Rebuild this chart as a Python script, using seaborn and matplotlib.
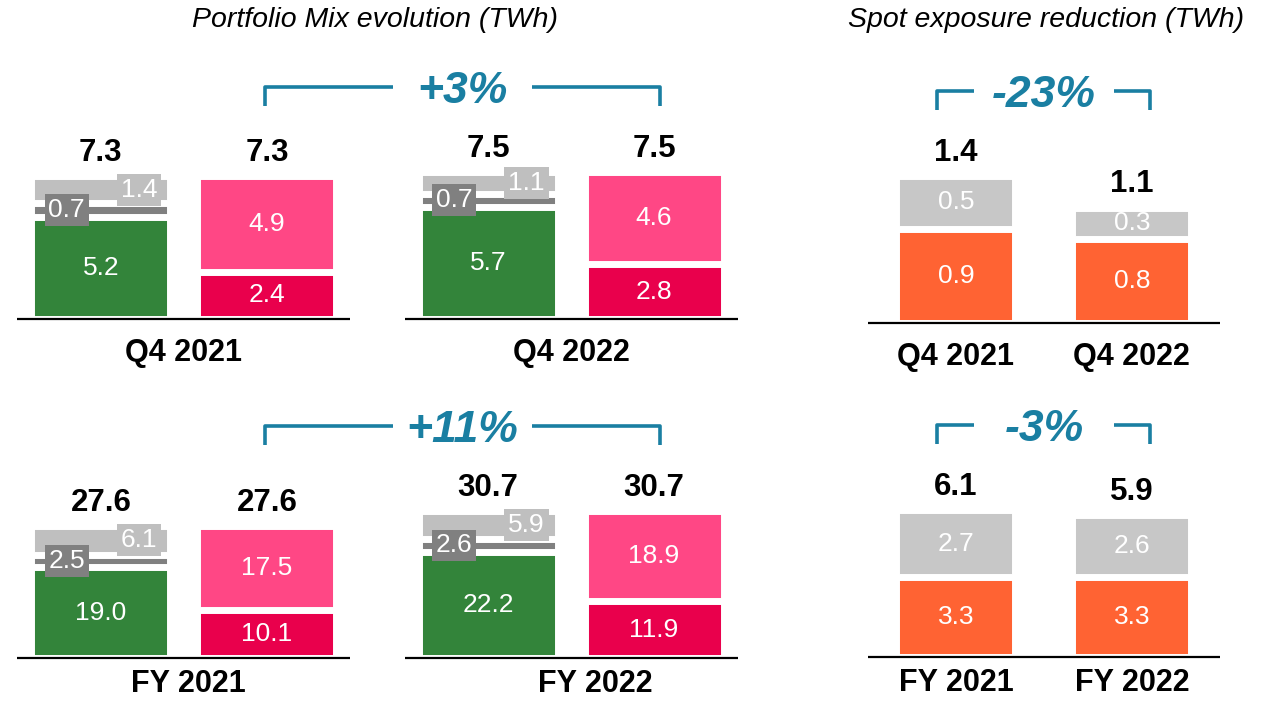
import numpy as np
import pandas as pd
import matplotlib.pyplot as plt
import seaborn as sns
from matplotlib import transforms

# ---- data (TWh) ----
q4_periods = ["Q4 2021", "Q4 2022"]
fy_periods = ["FY 2021", "FY 2022"]

# portfolio mix, first bar (green + dark grey + light grey)
q4_green = [5.2, 5.7]
q4_dark = [0.7, 0.7]
q4_light = [1.4, 1.1]
q4_total = [7.3, 7.5]
# portfolio mix, second bar (crimson + pink)
q4_low = [2.4, 2.8]
q4_high = [4.9, 4.6]

fy_green = [19.0, 22.2]
fy_dark = [2.5, 2.6]
fy_light = [6.1, 5.9]
fy_total = [27.6, 30.7]
fy_low = [10.1, 11.9]
fy_high = [17.5, 18.9]

# spot exposure (orange + grey)
spot_q4_orange = [0.9, 0.8]
spot_q4_grey = [0.5, 0.3]
spot_q4_total = [1.4, 1.1]
spot_fy_orange = [3.3, 3.3]
spot_fy_grey = [2.7, 2.6]
spot_fy_total = [6.1, 5.9]

mix_change = ["+3%", "+11%"]
spot_change = ["-23%", "-3%"]

# ---- style ----
GREEN = "#33843A"
DARK = "#808080"
LIGHT = "#BFBFBF"
PINK = "#FF4785"
CRIMSON = "#E9004C"
ORANGE = "#FF6333"
SPOTGREY = "#C7C7C7"
TEAL = "#1A7FA2"

sns.set_theme(style="white")
plt.rcParams['font.family'] = ['Liberation Sans', 'DejaVu Sans']

W, H = 1275, 705
fig = plt.figure(figsize=(W / 100, H / 100), dpi=100)
AX_H = 250       # px above baseline
BAR_PX = 147     # px used by the tallest bar


def px_axes(x0, x1, baseline):
    return fig.add_axes([x0 / W, (H - baseline) / H, (x1 - x0) / W, AX_H / H])


def tidy(ax, xlim, ymax, pad, label_shift=None):
    ax.set_xlim(*xlim)
    ax.set_ylim(0, ymax * AX_H / BAR_PX)
    ax.set_xlabel("")
    ax.set_ylabel("")
    ax.set_yticks([])
    ax.tick_params(axis="x", length=0, pad=pad, labelsize=22)
    for k, lbl in enumerate(ax.get_xticklabels()):
        lbl.set_fontweight("bold")
        lbl.set_color("black")
        if label_shift and label_shift[k]:
            lbl.set_transform(lbl.get_transform() + transforms.ScaledTranslation(
                label_shift[k] / 100, 0, fig.dpi_scale_trans))
    sns.despine(ax=ax, left=True, bottom=True)


def bracket(ax, x0, x1, gap, label):
    tr = transforms.blended_transform_factory(ax.transData, ax.transAxes)
    mid = (x0 + x1) / 2
    yt, yb = 0.928, 0.852
    kw = dict(color=TEAL, lw=2.6, transform=tr, clip_on=False,
              solid_joinstyle="round", solid_capstyle="butt")
    ax.plot([x0, x0, mid - gap], [yb, yt, yt], **kw)
    ax.plot([mid + gap, x1, x1], [yt, yt, yb], **kw)
    ax.text(mid, 0.864, label, transform=tr, ha="center", va="baseline",
            fontsize=32, fontweight="bold", fontstyle="italic", color=TEAL)


def inner(ax, x, y, s, box=None):
    kw = dict(ha="center", va="center", color="white", fontsize=19)
    if box is not None:
        kw["bbox"] = dict(boxstyle="square,pad=0.15", fc=box, ec="none")
    ax.text(x, y, s, **kw)


def total_label(ax, x, y):
    ax.annotate(f"{y:.1f}", (x, y), xytext=(0, 11), textcoords="offset points",
                ha="center", va="baseline", fontsize=22.5, fontweight="bold",
                color="black")


OFF = 0.2145            # dodge offset of the two bars in a group
MIX_W = 4 * OFF
MIX_GAP = 0.163


def mix_panel(ax, periods, green, dark, light, total, low, high, change,
              pad, label_shift=None):
    layers = [
        ({"mix": total, "split": total}, {"mix": LIGHT, "split": PINK}),
        ({"mix": list(np.add(green, dark)), "split": low}, {"mix": DARK, "split": CRIMSON}),
        ({"mix": green}, {"mix": GREEN, "split": GREEN}),
    ]
    for values, pal in layers:
        rows = [(p, k, v[i]) for k, v in values.items() for i, p in enumerate(periods)]
        df = pd.DataFrame(rows, columns=["period", "bar", "value"])
        sns.barplot(data=df, x="period", y="value", hue="bar", order=periods,
                    hue_order=["mix", "split"], palette=pal, width=MIX_W,
                    gap=MIX_GAP, dodge=True, saturation=1, edgecolor="white",
                    linewidth=5, errorbar=None, legend=False, ax=ax)
    for i in range(len(periods)):
        xa, xb = i - OFF, i + OFF
        inner(ax, xa, green[i] / 2, f"{green[i]:.1f}")
        inner(ax, xa - 0.088, green[i] + dark[i] / 2, f"{dark[i]:.1f}", box=DARK)
        inner(ax, xa + 0.099, (green[i] + dark[i] + total[i]) / 2, f"{light[i]:.1f}", box=LIGHT)
        inner(ax, xb, low[i] / 2, f"{low[i]:.1f}")
        inner(ax, xb, (low[i] + total[i]) / 2, f"{high[i]:.1f}")
        total_label(ax, xa, total[i])
        total_label(ax, xb, total[i])
        ax.hlines(0, i - 0.43, i + 0.43, color="black", lw=1.6, clip_on=False)
    tidy(ax, (-0.475, 1.488), max(total), pad, label_shift)
    bracket(ax, 0.21, 1.23, 0.18, change)


def spot_panel(ax, periods, orange, grey, total, change, pad):
    for vals, col in [(total, SPOTGREY), (orange, ORANGE)]:
        df = pd.DataFrame({"period": periods, "value": vals})
        sns.barplot(data=df, x="period", y="value", order=periods, color=col,
                    width=0.676, saturation=1, edgecolor="white", linewidth=5,
                    errorbar=None, ax=ax)
    for i in range(len(periods)):
        inner(ax, i, orange[i] / 2, f"{orange[i]:.1f}")
        inner(ax, i, (orange[i] + total[i]) / 2, f"{grey[i]:.1f}")
        total_label(ax, i, total[i])
    ax.hlines(0, -0.5, 1.5, color="black", lw=1.6, clip_on=False)
    tidy(ax, (-0.659, 1.813), max(total), pad)
    bracket(ax, -0.105, 1.105, 0.4, change)


mix_panel(px_axes(0, 760, 319), q4_periods, q4_green, q4_dark, q4_light,
          q4_total, q4_low, q4_high, mix_change[0], pad=14)
mix_panel(px_axes(0, 760, 658), fy_periods, fy_green, fy_dark, fy_light,
          fy_total, fy_low, fy_high, mix_change[1], pad=8, label_shift=[4, 24])
spot_panel(px_axes(840, 1275, 323), q4_periods, spot_q4_orange, spot_q4_grey,
           spot_q4_total, spot_change[0], pad=14)
spot_panel(px_axes(840, 1275, 657), fy_periods, spot_fy_orange, spot_fy_grey,
           spot_fy_total, spot_change[1], pad=8)

fig.text(375 / W, 1 - 20 / H, "Portfolio Mix evolution (TWh)", ha="center",
         va="center", fontsize=20.5, fontstyle="italic", color="black")
fig.text(1046 / W, 1 - 20 / H, "Spot exposure reduction (TWh)", ha="center",
         va="center", fontsize=20.5, fontstyle="italic", color="black")

fig.savefig("out.png", dpi=100, facecolor="white")
